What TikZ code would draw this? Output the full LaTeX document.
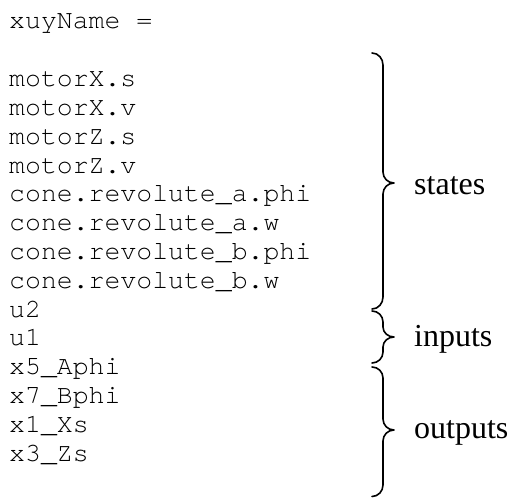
\documentclass[tikz,border=0pt]{standalone}
\usepackage{fontspec}
\newfontfamily\monofont{TeX Gyre Cursor}
\newfontfamily\labelfont{Liberation Serif}
\begin{document}
\begin{tikzpicture}[x=1pt,y=-1pt,
  codeline/.style={anchor=base west,inner sep=0pt,font=\monofont\fontsize{26.5}{26.5}\selectfont},
  bracelabel/.style={anchor=base west,inner sep=0pt,font=\labelfont\fontsize{32}{32}\selectfont},
  bracepath/.style={line width=1.6pt,line cap=round,line join=round}]
\useasboundingbox (0,0) rectangle (512,498);
\def\lh{28.8}
\node[codeline] (t0) at (9,28) {xuyName =};
\node[codeline] (t2) at (9,{29+2*\lh}) {motorX.s};
\node[codeline] (t3) at (9,{29+3*\lh}) {motorX.v};
\node[codeline] (t4) at (9,{29+4*\lh}) {motorZ.s};
\node[codeline] (t5) at (9,{29+5*\lh}) {motorZ.v};
\node[codeline] (t6) at (9,{29+6*\lh}) {cone.revolute\_a.phi};
\node[codeline] (t7) at (9,{29+7*\lh}) {cone.revolute\_a.w};
\node[codeline] (t8) at (9,{29+8*\lh}) {cone.revolute\_b.phi};
\node[codeline] (t9) at (9,{29+9*\lh}) {cone.revolute\_b.w};
\node[codeline] (t10) at (9,{29+10*\lh}) {u2};
\node[codeline] (t11) at (9,{29+11*\lh}) {u1};
\node[codeline] (t12) at (9,{29+12*\lh}) {x5\_Aphi};
\node[codeline] (t13) at (9,{29+13*\lh}) {x7\_Bphi};
\node[codeline] (t14) at (9,{29+14*\lh}) {x1\_Xs};
\node[codeline] (t15) at (9,{29+15*\lh}) {x3\_Zs};
% braces
\draw[bracepath] (372,53) to[out=0,in=90] (383,65) -- (383,172) to[out=-90,in=180] (394,183)
  to[out=180,in=90] (383,194) -- (383,297) to[out=-90,in=0] (372,309);
\draw[bracepath] (372,311) to[out=0,in=90] (383,322) -- (383,327) to[out=-90,in=180] (394,337)
  to[out=180,in=90] (383,347) -- (383,352) to[out=-90,in=0] (372,363);
\draw[bracepath] (372,367) to[out=0,in=90] (383,378) -- (383,419) to[out=-90,in=180] (394,430)
  to[out=180,in=90] (383,441) -- (383,485) to[out=-90,in=0] (372,496.5);
\node[bracelabel] (lstates) at (414,194) {states};
\node[bracelabel] (linputs) at (414,346) {inputs};
\node[bracelabel] (loutputs) at (414,438) {outputs};
\end{tikzpicture}
\end{document}
